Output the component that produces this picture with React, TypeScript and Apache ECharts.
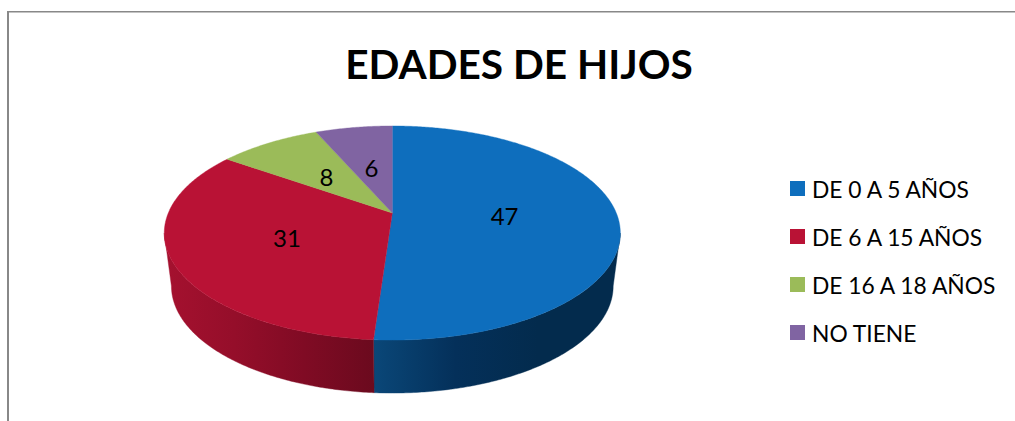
import React, { useEffect, useRef } from "react";
import * as echarts from "echarts";

const titleText = "EDADES DE HIJOS";
const categories = ["DE 0 A 5 AÑOS", "DE 6 A 15 AÑOS", "DE 16 A 18 AÑOS", "NO TIENE"];
const values = [47, 31, 8, 6];
const topColors = ["#0E6EBD", "#B91235", "#9BBB59", "#8064A2"];
const sideStops: (string[] | null)[] = [
  ["#0A4778", "#04305A", "#032B4D", "#032B4D"],
  ["#A5112F", "#950E2A", "#800B24", "#6B0A1E"],
  null,
  null,
];

const FONT = "Lato";
const total = values.reduce((a, b) => a + b, 0);
const starts: number[] = [];
values.reduce((acc, v, i) => {
  starts[i] = acc;
  return acc + v;
}, 0);

// perspective projection of a circular disc
const K = 0.187;
const project = (plane: { cx: number; cy: number; a: number; b: number }, theta: number, r = 1) => {
  const X = r * Math.sin(theta);
  const Y = r * Math.cos(theta);
  const w = 1 + K * Y;
  return [plane.cx + (plane.b * X) / w, plane.cy - (plane.a * Y) / w];
};
const topPlane = { cx: 392.3, cy: 213, a: 103.3, b: 224 };
const bottomPlane = { cx: 392.3, cy: 266, a: 103.3, b: 217 };

const arc = (plane: typeof topPlane, t0: number, t1: number) => {
  const n = Math.max(2, Math.ceil(Math.abs(t1 - t0) / 0.01));
  const pts: number[][] = [];
  for (let i = 0; i <= n; i++) pts.push(project(plane, t0 + ((t1 - t0) * i) / n));
  return pts;
};

const makeRender = (idx: number) => (_params: any, api: any) => {
  const v = api.value(0);
  const t0 = (starts[idx] / total) * Math.PI * 2;
  const t1 = ((starts[idx] + v) / total) * Math.PI * 2;
  const children: any[] = [];
  const stops = sideStops[idx];
  // the visible wall runs between the two silhouette points of the projected disc
  const s0 = Math.max(t0, Math.PI / 2 + Math.asin(K));
  const s1 = Math.min(t1, (Math.PI * 3) / 2 - Math.asin(K));
  if (stops && s1 > s0) {
    const pts = [...arc(topPlane, s0, s1), ...arc(bottomPlane, s1, s0)];
    const fill = new echarts.graphic.LinearGradient(
      0,
      0,
      1,
      0,
      stops.map((color, i) => ({ offset: i / (stops.length - 1), color }))
    );
    children.push({
      type: "polygon",
      shape: { points: pts },
      style: { fill, stroke: fill, lineWidth: 0.4 },
      z2: 1,
    });
  }
  const center = project(topPlane, 0, 0);
  const color = topColors[idx];
  children.push({
    type: "polygon",
    shape: { points: [center, ...arc(topPlane, t0, t1)] },
    style: { fill: color, stroke: color, lineWidth: 0.4 },
    z2: 2,
  });
  const lab = project(topPlane, (t0 + t1) / 2, 0.5);
  children.push({
    type: "text",
    z2: 10,
    style: {
      text: String(v),
      x: lab[0],
      y: lab[1] + 1,
      align: "center",
      verticalAlign: "middle",
      fontFamily: FONT,
      fontSize: 24,
      fill: "#000",
    },
  });
  return { type: "group", children };
};

export default function App() {
  const ref = useRef<HTMLDivElement>(null);
  useEffect(() => {
    const chart = echarts.init(ref.current!, null, { renderer: "svg" });
    chart.setOption({
      animation: false,
      backgroundColor: "#fff",
      title: {
        text: titleText,
        left: 514,
        top: 38,
        textAlign: "center",
        textStyle: { fontFamily: FONT, fontSize: 40.6, fontWeight: "bold", color: "#000" },
      },
      legend: {
        orient: "vertical",
        left: 790,
        top: 177,
        padding: 0,
        icon: "rect",
        itemWidth: 15,
        itemHeight: 15,
        itemGap: 25,
        selectedMode: false,
        data: categories,
        textStyle: { fontFamily: FONT, fontSize: 22.8, color: "#000", padding: [0, 0, 0, 2], lineHeight: 21 },
      },
      graphic: [
        { type: "rect", shape: { x: 7, y: 11, width: 2, height: 410 }, style: { fill: "#888" }, silent: true },
        { type: "rect", shape: { x: 7, y: 11, width: 1008, height: 1.5 }, style: { fill: "#888" }, silent: true },
      ],
      series: categories.map((name, i) => ({
        type: "custom",
        name,
        coordinateSystem: "none",
        itemStyle: { color: topColors[i] },
        data: [{ name, value: values[i] }],
        renderItem: makeRender(i),
        silent: true,
      })),
    });
    return () => chart.dispose();
  }, []);
  return <div ref={ref} style={{ position: "fixed", left: 0, top: 0, width: 1015, height: 421 }} />;
}
